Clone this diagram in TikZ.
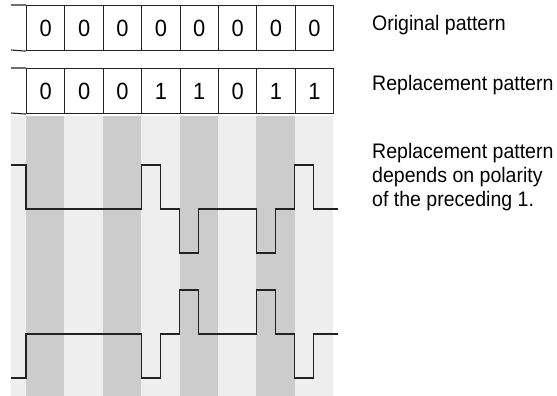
\documentclass[tikz,border=0pt]{standalone}
\usepackage{fontspec}
\setmainfont{Liberation Sans}[FakeStretch=0.93]
\usepackage{tikz}
\usetikzlibrary{positioning}
\definecolor{stripelight}{HTML}{EEEEEE}
\definecolor{stripedark}{HTML}{CCCCCC}
\definecolor{inkline}{HTML}{222222}
\tikzset{
  bitcell/.style={rectangle, draw=inkline, line width=1.1pt, minimum width=38.375pt, minimum height=45pt, inner sep=0pt, anchor=north west, font=\fontsize{23.5}{26}\selectfont},
  caption/.style={anchor=base west, align=left, inner sep=0pt, font=\fontsize{21}{24}\selectfont},
  wave/.style={draw=inkline, line width=1.1pt},
}

\begin{document}
\begin{tikzpicture}[x=1pt,y=-1pt]
  \useasboundingbox (0,0) rectangle (557,396);
  % bit clock stripes
  \fill[stripelight] (11,116) rectangle (333,396);
  \foreach \i in {0,2,4,6}
    \fill[stripedark] (26+38.375*\i,116) rectangle ++(38.375,280);
  % the two bit rows
  \foreach \b [count=\i from 0] in {0,0,0,0,0,0,0,0}
    \node[bitcell] (orig\i) at (26+38.375*\i,5) {\b};
  \foreach \b [count=\i from 0] in {0,0,0,1,1,0,1,1}
    \node[bitcell] (repl\i) at (26+38.375*\i,68) {\b};
  \draw[inkline, line width=1.1pt] (11,5) -- (orig0.north west) (11,50) -- (orig0.south west);
  \draw[inkline, line width=1.1pt] (11,68) -- (repl0.north west) (11,113) -- (repl0.south west);
  % line signal, preceding 1 positive / negative
  \draw[wave] (11,165) -| (26,209) -| (141.1,165) -| (160.3,209) -| (179.5,253) -| (198.7,209)
    -| (256.25,253) -| (275.4,209) -| (294.6,165) -| (313.8,209) -- (338,209);
  \draw[wave] (11,378) -| (26,334) -| (141.1,378) -| (160.3,334) -| (179.5,290) -| (198.7,334)
    -| (256.25,290) -| (275.4,334) -| (294.6,378) -| (313.8,334) -- (338,334);
  % captions
  \node[caption] (origtext) at (372,30.5) {Original pattern};
  \node[caption] (repltext) at (372,90) {Replacement pattern};
  \node[caption] (polaritytext) at (372,206.5) {Replacement pattern\\depends on polarity\\of the preceding 1.};
\end{tikzpicture}
\end{document}
